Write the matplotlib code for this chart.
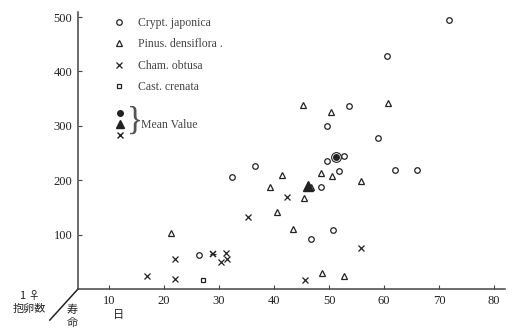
import matplotlib
matplotlib.use("Agg")
import matplotlib.pyplot as plt
from matplotlib.lines import Line2D

# life span (days) vs eggs per female
crypt_x = [71.8, 60.5, 53.6, 49.6, 58.9, 52.7, 49.6, 51.8, 62.0, 66.0, 48.5, 36.5, 32.4, 46.7, 50.7, 26.4]
crypt_y = [494, 428, 336, 300, 277, 244, 235, 217, 219, 219, 188, 226, 206, 92, 108, 62]
pinus_x = [45.3, 50.4, 60.7, 48.5, 50.5, 55.8, 41.5, 39.3, 45.5, 40.5, 43.5, 48.7, 52.7, 21.3, 46.8]
pinus_y = [338, 325, 342, 213, 208, 198, 210, 187, 167, 141, 110, 29, 24, 103, 187]
cham_x = [42.4, 35.3, 55.8, 45.6, 16.9, 22.0, 22.0, 31.3, 31.5, 30.4]
cham_y = [169, 132, 75, 17, 24, 55, 18, 66, 55, 50]
cast_x = [27.0]
cast_y = [17]

# mean values
mean_crypt = (51.3, 243)
mean_pinus = (46.2, 189)
mean_cham = (28.9, 64)

labels = ["Crypt. japonica", "Pinus. densiflora .", "Cham. obtusa", "Cast. crenata"]
xticks = [10, 20, 30, 40, 50, 60, 70, 80]
yticks = [100, 200, 300, 400, 500]

ink = "#222222"
W, H = 520, 330

def fx(px):
    return px / W

def fy(py):
    return 1 - py / H

fig = plt.figure(figsize=(5.2, 3.3), dpi=100)
ax = fig.add_axes([fx(78), fy(289), (505 - 78) / W, (289 - 11.6) / H])
ax.set_xlim(4.36, 82)
ax.set_ylim(0, 510)

mk = dict(linestyle="none", mfc="none", mec=ink, mew=0.9, clip_on=False)
h1, = ax.plot(crypt_x, crypt_y, marker="o", ms=4, **mk)
h2, = ax.plot(pinus_x, pinus_y, marker="^", ms=4.5, **mk)
h3, = ax.plot(cham_x, cham_y, marker="x", ms=4, linestyle="none", color=ink, mew=0.9)
h4, = ax.plot(cast_x, cast_y, marker="s", ms=3.5, **mk)

# means
ax.plot(*mean_crypt, marker="o", ms=7, mfc="none", mec=ink, mew=0.8)
ax.plot(*mean_crypt, marker="o", ms=4, color=ink)
ax.plot(*mean_pinus, marker="^", ms=6.5, color=ink)
ax.plot(*mean_cham, marker="x", ms=5, color=ink, mew=1.1)
ax.plot(*mean_cham, marker="_", ms=5, color=ink, mew=0.8)

for s in ["top", "right"]:
    ax.spines[s].set_visible(False)
for s in ["left", "bottom"]:
    ax.spines[s].set_color("#444444")
    ax.spines[s].set_linewidth(1.1)

ax.set_xticks(xticks)
ax.set_yticks(yticks)
ax.tick_params(direction="in", length=3, width=0.8, colors="#444444",
               labelcolor=ink, labelsize=9, pad=4)
for t in ax.get_xticklabels() + ax.get_yticklabels():
    t.set_family("Liberation Serif")

leg = ax.legend([h1, h2, h3, h4], labels, loc="upper left",
                bbox_to_anchor=((114 - 78) / 427, (289 - 17) / 277.4),
                frameon=False, handlelength=0.8, handletextpad=1.2,
                labelspacing=0.8, borderpad=0, borderaxespad=0,
                prop={"family": "Liberation Serif", "size": 8.5})
for t in leg.get_texts():
    t.set_color("#444444")

# mean value key
tf = fig.transFigure
fig.add_artist(Line2D([fx(120)], [fy(113)], marker="o", ms=4, color=ink, transform=tf))
fig.add_artist(Line2D([fx(120)], [fy(124)], marker="^", ms=6, color=ink, transform=tf))
fig.add_artist(Line2D([fx(120)], [fy(135)], marker="x", ms=4, color=ink, mew=1, transform=tf))
fig.text(fx(127), fy(121), "}", fontsize=24, family="Liberation Serif", color="#555555",
         va="center", ha="left", fontweight="light")
fig.text(fx(141), fy(125), "Mean Value", fontsize=8.5, family="Liberation Serif",
         color="#444444", va="center", ha="left")

# pseudo third axis in the corner
ax.plot([0, -0.066], [0, -0.112], transform=ax.transAxes, color=ink, lw=1.1, clip_on=False)
cjk = ["Noto Sans CJK JP", "DejaVu Sans"]
fig.text(fx(30), fy(296), "1 ♀", fontsize=8, family=cjk, color=ink, ha="center", va="center")
fig.text(fx(29), fy(309), "抱卵数", fontsize=8, family=cjk, color=ink, ha="center", va="center")
fig.text(fx(72), fy(310), "寿", fontsize=8, family=cjk, color=ink, ha="center", va="center")
fig.text(fx(72), fy(323), "命", fontsize=8, family=cjk, color=ink, ha="center", va="center")
fig.text(fx(119), fy(315), "日", fontsize=8, family=cjk, color=ink, ha="center", va="center")

fig.savefig("out.png", dpi=100)
